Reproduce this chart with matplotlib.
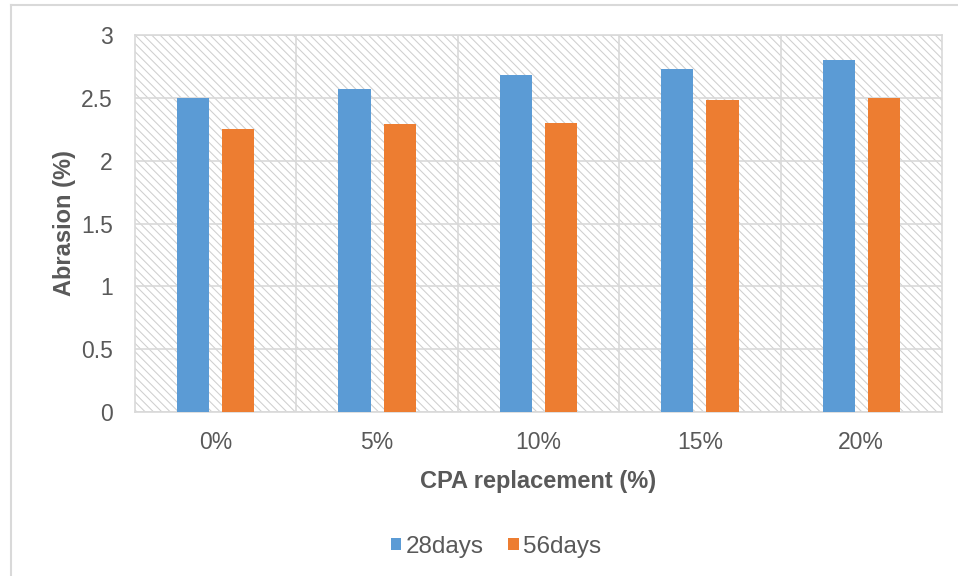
import numpy as np
import matplotlib
matplotlib.use("Agg")
from matplotlib import pyplot as plt
from matplotlib.patches import Rectangle
from matplotlib.lines import Line2D

plt.rcParams['font.family'] = ['Liberation Sans', 'DejaVu Sans']
plt.rcParams['hatch.linewidth'] = 0.75

categories = ["0%", "5%", "10%", "15%", "20%"]
days28 = [2.50, 2.57, 2.68, 2.73, 2.80]
days56 = [2.25, 2.29, 2.30, 2.48, 2.50]

BLUE = '#5b9bd5'
ORANGE = '#ed7d31'
TEXT = '#595959'
GRID = '#d9d9d9'
HATCH = '#cfcfcf'

fig = plt.figure(figsize=(9.58, 5.76), dpi=100)
ax = fig.add_axes([0.1409, 0.2847, 0.8424, 0.6545])

# chart border (only left/top fall inside the canvas)
fig.add_artist(Line2D([11 / 958, 11 / 958], [0, 1 - 5 / 576], color=GRID, lw=1.5))
fig.add_artist(Line2D([11 / 958, 1], [1 - 5 / 576, 1 - 5 / 576], color=GRID, lw=1.5))

# hatched plot area background
ax.add_patch(Rectangle((0, 0), 1, 1, transform=ax.transAxes, facecolor='white',
                       edgecolor=HATCH, linewidth=0, hatch='\\\\\\\\', zorder=0))

x = np.arange(len(categories))
w = 0.2
ax.bar(x - 0.14, days28, w, color=BLUE, label='28days', zorder=3)
ax.bar(x + 0.14, days56, w, color=ORANGE, label='56days', zorder=3)

ax.set_xlim(-0.5, len(categories) - 0.5)
ax.set_ylim(0, 3)
ax.set_yticks(np.arange(0, 3.01, 0.5))
ax.set_yticklabels(["0", "0.5", "1", "1.5", "2", "2.5", "3"])
ax.set_xticks(x)
ax.set_xticklabels(categories)
ax.set_xticks(np.arange(0.5, len(categories) - 0.5), minor=True)

ax.grid(axis='y', which='major', color=GRID, lw=1.2, zorder=1)
ax.grid(axis='x', which='minor', color=GRID, lw=1.2, zorder=1)
ax.set_axisbelow(True)
ax.tick_params(which='both', length=0, labelsize=16.5, colors=TEXT)
ax.tick_params(axis='y', pad=16)
ax.tick_params(axis='x', pad=14)
for s in ax.spines.values():
    s.set_color(GRID)
    s.set_linewidth(1.2)

ax.set_ylabel('Abrasion (%)', fontsize=17, fontweight='bold', color=TEXT, labelpad=3.5)
ax.set_xlabel('CPA replacement (%)', fontsize=17, fontweight='bold', color=TEXT, labelpad=11)

leg = fig.legend(loc='center', bbox_to_anchor=(0.518, 0.051), ncol=2, frameon=False,
                 fontsize=17.5, handlelength=0.42, handleheight=0.42, handletextpad=0.2,
                 columnspacing=1.0)
for t in leg.get_texts():
    t.set_color(TEXT)

fig.savefig('out.png', dpi=100)
